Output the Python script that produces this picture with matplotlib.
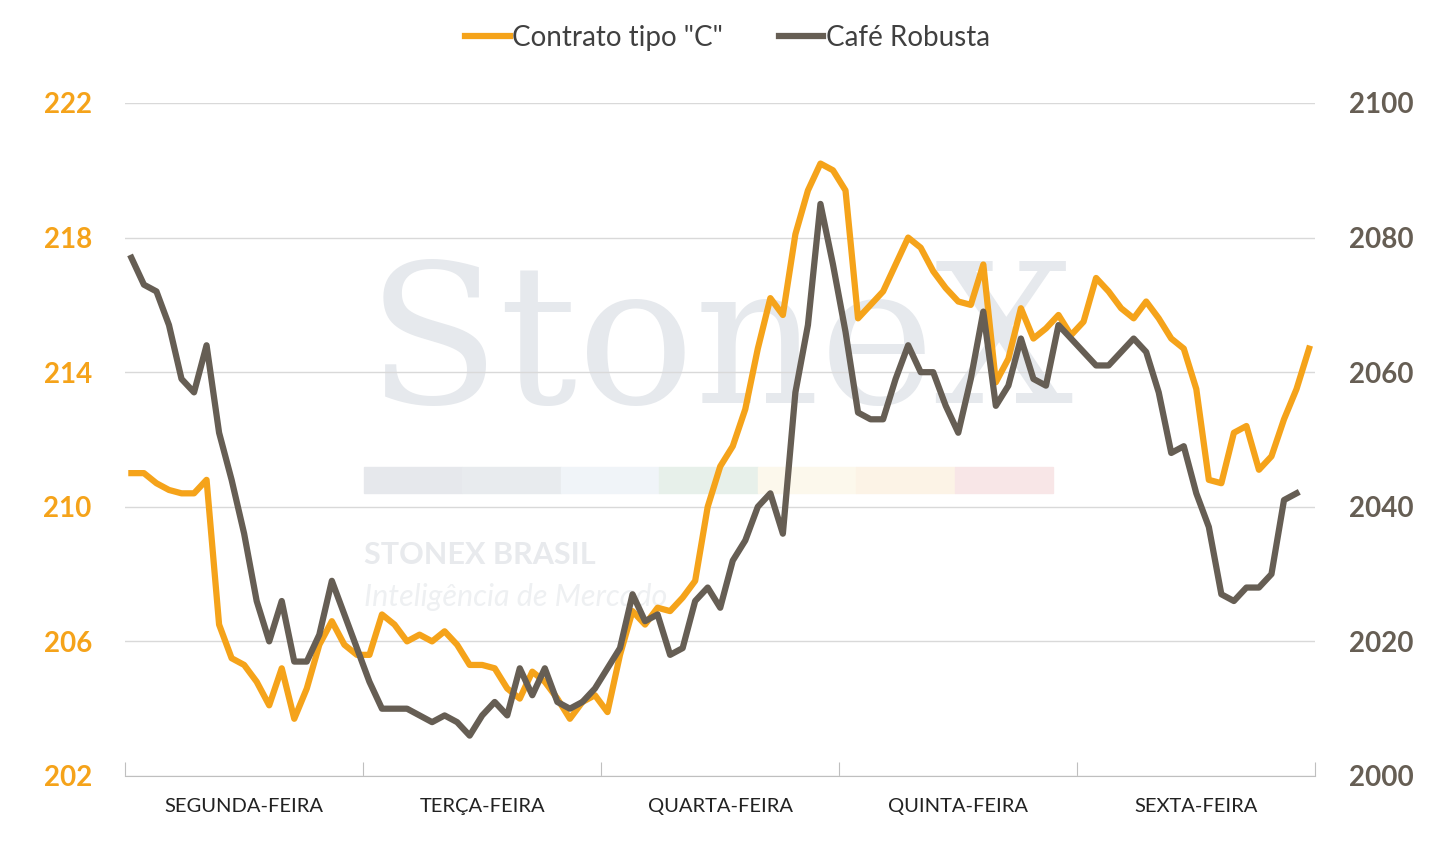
import numpy as np
import matplotlib.pyplot as plt

days = ["SEGUNDA-FEIRA", "TERÇA-FEIRA", "QUARTA-FEIRA", "QUINTA-FEIRA", "SEXTA-FEIRA"]

contrato_c = [
    211.0, 211.0, 210.7, 210.5, 210.4, 210.4, 210.8, 206.5, 205.5, 205.3, 204.8, 204.1, 205.2, 203.7, 204.6, 205.9, 206.6, 205.9, 205.6,
    205.6, 206.8, 206.5, 206.0, 206.2, 206.0, 206.3, 205.9, 205.3, 205.3, 205.2, 204.6, 204.3, 205.1, 204.8, 204.3, 203.7, 204.2, 204.4,
    203.9, 205.6, 206.9, 206.5, 207.0, 206.9, 207.3, 207.8, 210.0, 211.2, 211.8, 212.9, 214.7, 216.2, 215.7, 218.1, 219.4, 220.2, 220.0,
    219.4, 215.6, 216.0, 216.4, 217.2, 218.0, 217.7, 217.0, 216.5, 216.1, 216.0, 217.2, 213.7, 214.4, 215.9, 215.0, 215.3, 215.7, 215.1,
    215.5, 216.8, 216.4, 215.9, 215.6, 216.1, 215.6, 215.0, 214.7, 213.5, 210.8, 210.7, 212.2, 212.4, 211.1, 211.5, 212.6, 213.5, 214.7,
]
robusta = [
    2077, 2073, 2072, 2067, 2059, 2057, 2064, 2051, 2044, 2036, 2026, 2020, 2026, 2017, 2017, 2021, 2029, 2024, 2019,
    2014, 2010, 2010, 2010, 2009, 2008, 2009, 2008, 2006, 2009, 2011, 2009, 2016, 2012, 2016, 2011, 2010, 2011, 2013,
    2016, 2019, 2027, 2023, 2024, 2018, 2019, 2026, 2028, 2025, 2032, 2035, 2040, 2042, 2036, 2057, 2067, 2085, 2076,
    2066, 2054, 2053, 2053, 2059, 2064, 2060, 2060, 2055, 2051, 2059, 2069, 2055, 2058, 2065, 2059, 2058, 2067, 2065,
    2063, 2061, 2061, 2063, 2065, 2063, 2057, 2048, 2049, 2042, 2037, 2027, 2026, 2028, 2028, 2030, 2041, 2042, np.nan,
]

ORANGE = "#F5A31A"
DARK = "#665E54"
plt.rcParams["font.family"] = ["Lato", "DejaVu Sans"]

n = len(contrato_c)
x = np.arange(n) + 0.5

fig = plt.figure(figsize=(14.55, 8.42), dpi=100)

# watermark, behind everything
fig.text(0.495, 0.585, "StoneX", fontsize=140, family="DejaVu Serif", color="#E6E9ED", ha="center", va="center", zorder=-5)
fig.text(0.25, 0.33, "STONEX BRASIL", fontsize=22, weight="bold", color="#E8EAED", ha="left", zorder=-5)
fig.text(0.25, 0.28, "Inteligência de Mercado", fontsize=22, style="italic", color="#EEF0F2", ha="left", zorder=-5)
strip = ["#E6E8EC", "#E8EBEE", "#F0F4F8", "#E7F0EA", "#FCF8EC", "#FCF3E6", "#F8E6E7"]
for k, c in enumerate(strip):
    fig.patches.append(plt.Rectangle((0.25 + k * 0.0677, 0.415), 0.0677, 0.03, transform=fig.transFigure,
                                     color=c, zorder=-5))

ax = fig.add_axes([0.086, 0.0784, 0.818, 0.7993], zorder=1)
ax2 = ax.twinx()

ax.plot(x, contrato_c, color=ORANGE, lw=4.5, label='Contrato tipo "C"', zorder=3)
ax2.plot(x, robusta, color=DARK, lw=4.5, label="Café Robusta", zorder=3)

ax.set_xlim(0, n)
ax.set_ylim(202, 222)
ax.set_yticks(np.arange(202, 223, 4))
ax2.set_ylim(2000, 2100)
ax2.set_yticks(np.arange(2000, 2101, 20))
ax.grid(axis="y", color="#D9D9D9", lw=1)
ax.set_axisbelow(True)
ax.patch.set_alpha(0)
ax2.patch.set_alpha(0)

ax.set_xticks(np.arange(0, n + 1, 19))
ax.set_xticklabels([])
ax.set_xticks(np.arange(9.5, n, 19), minor=True)
ax.set_xticklabels(days, minor=True, fontsize=14.5, color="#222222")
ax.tick_params(axis="x", which="major", length=10, color="#BFBFBF", direction="in")
ax.tick_params(axis="x", which="minor", length=0, pad=16)
ax.tick_params(axis="y", length=0, labelsize=20, labelcolor=ORANGE, pad=24)
ax2.tick_params(axis="y", length=0, labelsize=20, labelcolor=DARK, pad=24)
for lab in ax.get_yticklabels() + ax2.get_yticklabels():
    lab.set_fontweight("bold")
for a in (ax, ax2):
    for s in a.spines.values():
        s.set_visible(False)
ax.spines["bottom"].set_visible(True)
ax.spines["bottom"].set_color("#BFBFBF")

h1, l1 = ax.get_legend_handles_labels()
h2, l2 = ax2.get_legend_handles_labels()
fig.legend(h1 + h2, l1 + l2, loc="upper center", bbox_to_anchor=(0.5, 1.0), ncol=2, frameon=False,
           fontsize=20, labelcolor="#404040", handlelength=1.6, handletextpad=0.1, columnspacing=2)

fig.savefig("out.png", dpi=100)
